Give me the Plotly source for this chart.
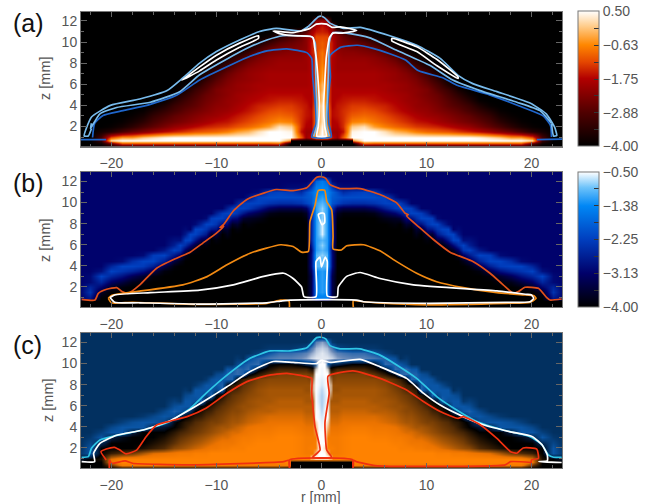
import numpy as np
import plotly.graph_objects as go

W, H = 661, 504
PANELS = [(11.5, 146.5), (172, 307), (333, 468)]
X0, X1 = 81, 562

# ---- field grids (half plane, mirrored about r = 0) ----
r_half = [0, .5, 1, 1.5, 2, 3, 4, 5, 6, 7, 8, 9, 10, 11, 12, 13, 14, 15, 16, 17, 18, 19, 20, 21, 22, 23]
z_rows = [13, 12.5, 12, 11.5, 11, 10.5, 10, 9.5, 9, 8.5, 8, 7.5, 7, 6.5, 6, 5.5, 5, 4.5, 4, 3.5, 3, 2.5, 2, 1.5, 1, .7, .4, .1]

# tenths of a decade above -4.00
a_rows = [
 [0],[2,0],[20,18,0],[24,22,16,0],[25,24,20,12,8,4,2,0],[28,28,22,18,14,10,6,2,0],
 [30,28,24,18,16,14,12,8,3,0],[30,28,24,18,17,16,15,13,8,3,0],[32,28,24,19,18,18,17,16,13,8,3,0],
 [32,28,22,20,19,19,19,18,16,13,8,3,0],[33,28,22,20,20,20,20,19,18,16,12,7,2,0],
 [34,28,22,20,20,20,20,20,19,18,15,11,6,1,0],[35,28,22,21,21,21,21,21,20,19,17,14,9,4,0],
 [36,28,22,21,21,21,21,21,20,19,18,16,12,7,2,0],[38,30,22,21,21,21,21,21,21,20,19,17,14,10,4,1,0],
 [38,30,22,22,22,22,22,22,21,20,19,18,16,12,8,3,0],[40,30,22,22,23,23,23,23,22,21,20,18,16,14,10,6,2,0],
 [40,30,22,23,24,25,25,24,23,22,20,19,17,15,12,9,5,1,0],[42,32,22,24,25,27,27,26,25,23,21,19,18,16,13,11,8,4,1,0],
 [42,32,23,24,26,28,29,28,26,24,22,20,19,17,15,13,10,7,4,1,0],[42,32,23,24,26,30,31,30,28,26,24,22,20,19,17,15,13,10,7,3,1,0],
 [42,32,22,23,26,33,34,32,30,28,26,24,23,21,19,17,15,13,10,6,3,1,0],[44,34,22,22,26,40,42,36,33,31,29,27,26,25,23,21,19,16,13,10,6,3,1,0],
 [45,36,20,20,24,44,45,45,42,38,36,33,31,30,29,27,25,23,20,17,14,10,5,3,0],
 [45,40,24,20,30,45,45,45,45,45,45,45,45,45,45,45,45,44,42,40,36,36,30,10,0],
 [0,0,0,0,0,35,45,45,45,45,45,45,45,45,45,45,45,45,45,45,45,45,42,8,0],
 [0,0,0,0,0,0,30,28,28,28,28,28,28,28,28,28,28,28,28,28,28,28,12,2,0],
 [0,0,0,0,0,0,4,5,5,5,5,5,5,5,5,5,5,5,5,5,5,5,2,0],
]
b_rows = [
 [9],[12,9],[25,22,10,9],[26,25,17,11,10,10,9],[26,26,22,19,15,17,18,17,10,9],[28,26,21,20,19,19,19,19,18,11,9],
 [30,28,20,18,16,15,15,16,18,18,13,9],[32,28,16,8,6,6,6,8,13,17,18,13,9],[32,28,14,3,1,1,1,2,6,9,16,18,13,9],
 [32,28,14,1,0,0,0,0,2,3,10,15,18,10,9],[34,28,14,0,0,0,0,0,0,1,4,10,16,18,10,9],
 [34,28,14,0,0,0,0,0,0,0,1,4,11,16,18,10,9],[34,28,14,0,0,0,0,0,0,0,0,2,5,12,18,12,9],
 [30,28,14,0,0,0,0,0,0,0,0,0,1,5,12,18,11,9],[32,28,12,0,0,0,0,0,0,0,0,0,0,1,5,15,13,9],
 [30,28,9,0,0,0,0,0,0,0,0,0,0,0,1,8,18,12,9],[32,30,10,0,0,0,0,0,0,0,0,0,0,0,0,2,12,18,17,10,9],
 [30,30,10,0,0,0,0,0,0,0,0,0,0,0,0,0,5,13,18,18,15,10,9],[30,30,10,0,0,0,0,0,0,0,0,0,0,0,0,0,1,6,13,17,18,18,14,9],
 [28,26,8,0,0,0,0,0,0,0,0,0,0,0,0,0,0,1,6,11,14,16,18,11,9],[28,26,6,0,0,0,0,0,0,0,0,0,0,0,0,0,0,0,1,4,7,11,14,18,10,9],
 [28,26,6,0,0,0,0,0,0,0,0,0,0,0,0,0,0,0,0,1,2,5,8,14,10,9],[28,26,6,0,0,0,0,0,0,0,0,0,0,0,0,0,0,0,0,0,0,1,3,9,14,9],
 [28,26,6,0,0,0,0,0,0,0,0,0,0,0,0,0,0,0,0,0,0,0,0,3,16,9],[25,25,6,0,0,0,0,0,0,0,0,0,0,0,0,0,0,0,0,0,0,0,0,0,12,9],
 [0],[0],[0],
]
b_mid = {
 7.5:[9,9,9,9,9,9,17,18,12,4,0],
 8.5:[9,9,9,9,9,9,9,17,18,11,3,0],
 9.5:[9,9,9,9,9,9,9,9,17,18,11,3,0],
 10.5:[9,9,9,9,9,9,9,9,9,17,18,12,4,0],
 11.5:[9,9,9,9,9,9,9,9,9,9,14,18,15,6,1,0],
 12.5:[9,9,9,9,9,9,9,9,9,9,9,9,18,18,10,3,0],
 13.5:[9,9,9,9,9,9,9,9,9,9,9,9,9,11,18,16,8,2,0],
}
c_rows = [
 [25],[26,25],[36,34,26,25],[38,37,33,28,27,26,26,26,25],[39,38,36,34,33,32,32,30,27,25],[39,39,38,36,35,34,34,33,31,29,26,25],
 [40,30,24,24,22,20,20,21,32,31,28,25],[18,18,18,15,15,15,15,18,22,32,32,30,25],[13,13,12,11,11,11,11,13,17,22,32,31,28,25],
 [11,11,11,10,10,10,10,10,11,14,20,31,30,26,25],[10,10,9,9,9,9,9,9,10,12,16,21,30,30,26,25],
 [9,9,9,9,8,8,8,8,9,11,14,17,28,30,30,26,25],[9,9,8,8,8,8,8,8,9,10,12,15,21,28,30,28,25],
 [8,8,8,8,7,7,7,8,8,9,11,13,17,22,29,30,27,25],[8,8,7,7,7,7,7,7,8,9,10,12,15,19,24,30,29,25],
 [7,7,7,7,6,6,6,7,7,8,10,11,13,16,20,28,31,28,25],[6,6,6,6,5,5,5,5,6,7,9,10,12,14,17,21,29,30,28,26,25],
 [5,5,5,5,4,4,4,4,5,6,8,9,11,12,14,17,21,28,30,30,29,27,25],[4,4,4,4,3,2,2,3,3,4,6,8,9,11,13,16,20,22,23,30,30,30,28,25],
 [3,3,3,3,2,1,1,2,2,3,5,6,8,10,12,14,17,20,20,20,23,30,30,27,25],[2,2,2,2,1,0,0,1,1,2,3,5,6,8,10,12,15,18,20,20,20,21,23,30,26,25],
 [1,1,2,2,1,0,0,0,0,1,2,3,4,6,8,10,13,16,18,20,20,20,20,24,28,25],[1,1,1,2,1,0,0,0,0,0,1,2,3,4,6,8,10,14,16,18,20,20,20,20,30,25],
 [2,2,2,2,1,0,0,0,0,0,0,0,0,1,1,2,3,4,5,8,12,14,16,20,30,26],[0,0,0,0,0,0,0,0,0,0,0,0,0,0,0,0,0,0,0,0,0,0,4,18,20,22],
 [20,20,20,20,20,0,0,0,0,0,0,0,0,0,0,0,0,0,0,0,0,0,3,20],[20,20,20,20,20,1,2,2,2,2,2,2,2,2,2,2,2,2,2,2,2,2,12,20],
 [20,20,20,20,20,20,17,17,17,17,17,17,17,17,17,17,17,17,17,17,17,17,20],
]
c_mid = {
 7.5:[25,25,25,25,25,25,30,31,31,16,13,12,11,10,9,9,8,7,5,4,2,1,1,0,0,0,2,17],
 8.5:[25,25,25,25,25,25,25,30,31,31,17,15,13,12,11,10,9,8,7,5,4,3,1,0,0,0,2,17],
 9.5:[25,25,25,25,25,25,25,25,29,30,31,31,18,15,13,12,11,10,8,7,5,3,2,0,0,0,2,17],
 10.5:[25,25,25,25,25,25,25,25,25,29,30,30,31,20,17,15,13,11,10,9,7,5,3,0,0,0,2,17],
 11.5:[25,25,25,25,25,25,25,25,25,25,28,30,30,31,20,18,16,13,12,11,9,7,5,1,0,0,2,17],
 12.5:[25,25,25,25,25,25,25,25,25,25,25,25,29,30,30,25,19,16,14,13,11,9,7,2,0,0,2,17],
 13.5:[25,25,25,25,25,25,25,25,25,25,25,25,25,26,30,30,24,19,18,15,13,11,9,2,0,0,2,17],
}
# bright jet of panel c, laid over the base field (0 = clear, 4 = white, 10 = pale blue)
jet_r = [0, .3, .6, .9]
jet_z = [10.5, 10, 9.5, 9, 8.5, 8, 7.5, 7, 6.5, 6, 5.5, 5, 4.5, 4, 3.5, 3, 2.5, 2, 1.5, 1.2, 1, .9]
jet_rows = [[0,0,0,0],[4,4,0,0],[5,4,3,0],[5,4,4,0],[6,5,4,1],[7,5,4,2],[9,6,4,2],[10,7,4,1],[10,7,4,0],[10,6,4,0],[9,5,4,0],
            [7,5,4,0],[6,4,3,0],[5,4,2,0],[4,4,1,0],[4,4,0,0],[4,4,0,0],[4,3,0,0],[4,4,2,0],[4,4,4,2],[4,4,4,2],[0,0,0,0]]

# ---- colour bars ----
a_ticks = [-4.00, -2.88, -1.75, -0.63, 0.50]
a_ticktext = ["−4.00", "−2.88", "−1.75", "−0.63", "0.50"]
b_ticks = [-4.00, -3.13, -2.25, -1.38, -0.50]
b_ticktext = ["−4.00", "−3.13", "−2.25", "−1.38", "−0.50"]
a_stops = [(-4, "rgb(0,0,0)"), (-2.88, "rgb(80,0,0)"), (-1.75, "rgb(178,0,0)"), (-1.2, "rgb(228,70,0)"),
           (-.63, "rgb(255,135,0)"), (0, "rgb(255,205,140)"), (.5, "rgb(255,255,255)")]
b_stops = [(-4, "rgb(0,0,0)"), (-3.13, "rgb(0,0,105)"), (-2.25, "rgb(0,62,190)"), (-1.38, "rgb(0,135,245)"),
           (-.9, "rgb(110,195,250)"), (-.5, "rgb(255,255,255)")]
c_stops = [(0, "rgb(255,130,0)"), (4, "rgb(235,115,0)"), (8, "rgb(165,85,5)"), (14, "rgb(80,42,5)"), (20, "rgb(0,0,0)"),
           (22, "rgb(2,20,50)"), (25, "rgb(2,48,96)"), (30, "rgb(10,85,165)"), (35, "rgb(110,140,185)"),
           (40, "rgb(255,255,255)"), (45, "rgb(170,205,240)")]
jet_stops = [(0, "rgba(255,255,255,0)"), (4, "rgba(255,255,255,1)"), (10, "rgba(170,205,240,1)")]

# ---- contours, panel a ----
a_shell_r = [-21.9,-22.2,-22.6,-22.4,-21.9,-20.1,-17.3,-14.7,-13.2,-11.6,-10,-7.8,-5.9,-4.3,-2,-1.3,-.3,0,.3,.8,2.1,3.7,6.5,9.07,11.3,13,14.4,16.7,19.9,21.4,22.2,22.4,22.1,21.9]
a_shell_z = [1.8,1.1,1.1,1.8,2.9,4,4.6,5.4,6.6,8,9.1,10.2,11,11.3,11.05,11.45,12.4,12.45,12.3,11.8,11.3,11.4,10.6,9.7,8.45,6.85,6.06,5.3,4.2,3.2,1.93,1.14,1.1,2.3]
a_inl_r = [-21.9,-22,-21.1,-19.5,-16.3,-13.5,-11.6,-9,-6.8,-5.2,-3.7,-2,-.93,-.6,-.55,-.45,-.4,-.75]
a_inl_z = [2.3,1.8,3.2,3.8,4.3,5.3,6.9,8.4,9.55,10.2,10.6,10.6,10.5,9.9,7,4.5,2.2,1.05]
a_inr_r = [21.9,20.8,18.6,15.1,12.5,10.3,7.2,4.6,2.7,1.1,.75,.65,.55,.45,.75]
a_inr_z = [2.3,3.5,4.3,5.4,6.4,7.8,9.2,10.4,10.8,10.9,10,7,4.5,2.2,1.05]
a_dark_r = [-21.8,-21.6,-20.8,-18.9,-16.3,-13.8,-11.6,-8.7,-6.8,-5.2,-3.3,-1.4,-.93,-.84,-.62,-.52,-.93,.93,.7,.62,.85,.8,1.8,3.4,4.9,6.5,8,9.2,11.6,12.9,16,19.2,21.1,21.8,21.9]
a_dark_z = [.95,2.3,3.05,3.5,4.1,4.95,6.4,7.8,8.65,9.17,9.36,9,8.45,6.7,4.5,2.3,1,1,2.3,4.5,6.7,8.7,9.5,9.7,9.4,8.9,8.3,7.3,6.6,5.9,5,3.8,3,2.1,1]
a_base_l_r = [-22.9,-20.5]
a_base_l_z = [.76,.76]
a_base_r_r = [20.5,22.9]
a_base_r_z = [.76,.8]
a_wl_r = [-13.3,-11.6,-10,-7.8,-6,-6,-7.8,-10,-11.6,-13.3]
a_wl_z = [6.38,7.65,8.76,9.9,10.6,10.35,9.5,8.3,7.27,6.38]
a_wr_r = [6.7,9.07,11,13,13,11,9.07,6.7,6.7]
a_wr_z = [10.35,9.55,8.35,6.7,6.55,7.75,9.1,10.1,10.35]
a_wc_r = [-4.6,-2.7,-1.1,-.5,0,.5,1,1.8,3.35,2,1.1,.75,.6,.45,.3,.2,.3,.45,-.45,-.3,-.2,-.3,-.5,-.65,-.8,-1.1,-2.7,-4,-4.6]
a_wc_z = [11.05,10.9,11.3,11.7,11.75,11.7,11.4,11.45,11.1,10.85,10.85,10.4,9.6,8.5,6,4,2,1.1,1.1,2,4,6,8.5,9.5,10.4,10.55,10.6,10.8,11.05]

# ---- contours, panel b ----
b_red_r = [-22.84,-21.57,-21.25,-20.46,-19.5,-19,-18.4,-17.3,-15.7,-13.8,-12.5,-11.3,-10,-9.3,-9.67,-9.3,-8.4,-7.1,-5.5,-4.3,-2.7,-1.4,-.46,0,.4,.81,1.76,3.67,5.57,7.16,7.95,8.27,8.1,9.38,10.65,12.24,14.46,16.05,17.3,18.27,18.75,19.38,20.65,21.45,21.76,22.87]
b_red_z = [.83,.76,1.4,1.78,1.94,1.56,1.4,2.2,3.78,4.73,5.3,6.16,7.1,7.75,7.65,7.95,9.2,10.3,10.9,11.24,11.14,11.4,12.4,12.45,12.3,11.7,11.33,11.33,10.76,9.97,9,8.86,8.75,7.6,6.5,5.3,4.4,3.3,2.2,1.4,1.56,1.97,1.87,.98,.76,.86]
b_or_r = [-20.3,-20,-18.4,-13.2,-10.9,-9,-6.8,-3.9,-2.7,-1.9,-1.25,-1.1,-.6,-.3,.3,.5,.97,1.1,1.1,1.9,2.4,4,5.57,7.16,9.06,10.97,13.5,16.7,19.5,20.2,20.43,19.85,17.6,9,4,3.03,3.03]
b_or_z = [.92,1.2,1.46,2.2,2.98,4.1,5.2,6,5.84,5.3,5.37,8.2,9.8,11.15,11.17,10.1,9.3,6.8,5.6,5.5,5.9,6,5.43,4.4,3.3,2.5,1.94,1.46,1.24,1.18,.92,.54,.45,.32,.6,.7,.1]
b_orl_r = [-20.3,-20,-18,-12.2,-5.2,-3.9,-3.1,-3.05]
b_orl_z = [.92,.5,.55,.35,.45,.76,.68,.1]
b_wh_r = [-20.1,-19.7,-16.3,-11.6,-8.4,-5.5,-3.6,-2.7,-1.9,-1.67,-.52,-.52,-.15,0,.35,.55,.55,1.5,1.6,2.4,3.67,5.57,8.75,16.7,19.5,20,20.2,19.85,17.6,10.3,4,3.35,-3,-3.9,-5.2,-11.6,-17.3,-19.7,-20.1]
b_wh_z = [1,1.24,1.46,1.7,2.2,3,3.3,2.8,2,1.08,1.08,4.41,4.83,3.9,4.83,4.41,1.14,1.08,2,3,3.37,2.8,2.2,1.62,1.3,1.24,.92,.6,.54,.45,.6,.76,.76,.66,.5,.38,.5,.55,1]
b_wh2_r = [-.3,-.05,.25,.3,.05,-.3]
b_wh2_z = [8.86,9,8.95,8.1,7.9,8.86]

# ---- contours, panel c ----
c_cy_r = [-22.84,-22.2,-21.9,-21.1,-19.5,-17,-14.6,-12.5,-11,-9,-6.8,-4.9,-3,-1.4,-.46,0,.4,.81,1.76,3.67,5.57,7.16,9.06,10.97,12.87,14.8,17.3,19.86,21,21.6,22.1,22.87]
c_cy_z = [1.12,1.18,1.97,2.76,3.2,3.7,4.43,5.76,7.18,8.9,10.5,11.2,11.2,11.5,12.46,12.5,12.35,11.7,11.4,11.4,10.8,9.87,8.6,6.87,5.6,4.5,3.7,3.07,2.3,1.34,1.12,1.12]
c_wh_r = [-22.84,-21.6,-21.7,-21.1,-19.5,-17,-14.6,-12.5,-11,-9,-6.8,-4.6,-2.7,-.46,-.05,.05,.81,3.67,5.57,8.1,9.7,11.3,13.5,15.4,17.9,20.1,21,21.5,21.5,20.7,22.87]
c_wh_z = [.7,.7,1.5,2.44,3.2,3.7,4.5,5.65,6.55,7.8,9.24,10.2,10.12,10,10.3,10.3,10.12,10.4,9.7,8.6,7.2,6.07,4.97,4.2,3.55,3.07,2.3,1.34,.77,.7,.62]
c_red_r = [-20.5,-21,-20.5,-19.7,-19.2,-18.6,-17.6,-16.7,-15.7,-14.6,-12.8,-11,-9,-7.1,-5.2,-3.3,-1.4,-.93,-.93,-.62,-.14,-.84,.97,.5,.33,.73,.62,3,5.57,8.1,9.7,11.3,13,13.5,15.1,16.7,18,18.6,19.2,20.5,20.65,20,20]
c_red_z = [.87,1.65,1.9,2.06,1.8,1.44,1.8,3.07,4.18,4.5,4.97,5.76,7.18,8.29,8.86,9.08,8.76,8.6,7.2,4.02,1.8,1.1,1.1,1.8,4.4,7.2,8.8,9.3,8.6,7.5,6.4,5.45,4.8,4.97,4.2,2.9,1.65,1.5,2,1.9,1,.87,.25]
c_redl_r = [-20.2,-20.2,-20,-18.7,-18,-12.6,-3.6,-3.05,-3.05,-3.05,3,3,3,3.3,5.1,9.4,17.5,18,20]
c_redl_z = [.1,.87,.55,.77,.55,.4,.7,.86,.1,.86,.86,.1,.86,.7,.33,.25,.4,.7,.62]

LIGHT, DARK, ORNG, RED, CYAN, RED2, WHITE = "#78bbec", "#1f66cc", "#f28a12", "#e2511a", "#2fc6e6", "#f0300f", "#ffffff"

def field(rows, mids=None):
    n = len(r_half)
    m = np.array([list(x) + [x[-1]] * (n - len(x)) for x in rows], dtype=float)
    rh = np.array(r_half, dtype=float)
    for r0, col in sorted((mids or {}).items()):
        col = list(col) + [col[-1]] * (len(z_rows) - len(col))
        k = int(np.searchsorted(rh, r0))
        m = np.insert(m, k, col, axis=1)
        rh = np.insert(rh, k, r0)
    i3 = int(np.searchsorted(rh, 3))
    col = m[:, i3].copy()
    low = np.array(z_rows) < .75
    col[low] = m[low, i3 - 1]
    m = np.insert(m, i3, col, axis=1)
    rh = np.insert(rh, i3, 2.9)
    full = np.hstack([m[:, :0:-1], m])
    rr = np.concatenate([-rh[:0:-1], rh])
    return rr, np.array(z_rows)[::-1], full[::-1]

def cs(stops):
    lo, hi = stops[0][0], stops[-1][0]
    return [[(v - lo) / (hi - lo), c] for v, c in stops]

fig = go.Figure()
for i, (t, b) in enumerate(PANELS, start=1):
    s = "" if i == 1 else str(i)
    fig.update_layout({
        "xaxis" + s: dict(domain=[X0 / W, X1 / W], range=[-22.9, 22.9], anchor="y" + s, tickvals=[-20, -10, 0, 10, 20],
                          ticktext=["−20", "−10", "0", "10", "20"], ticks="inside", ticklen=5, mirror="allticks",
                          showline=True, linecolor="#777", linewidth=1, tickcolor="#666", showgrid=False, zeroline=False,
                          minor=dict(dtick=2, ticks="inside", ticklen=3, tickcolor="#666"),
                          tickfont=dict(family="Liberation Sans", size=14, color="#555"), ticklabelstandoff=4),
        "yaxis" + s: dict(domain=[1 - b / H, 1 - t / H], range=[.1, 12.9], anchor="x" + s, tickvals=[2, 4, 6, 8, 10, 12],
                          ticks="inside", ticklen=6, mirror="allticks", showline=True, linecolor="#777", linewidth=1,
                          tickcolor="#666", showgrid=False, zeroline=False,
                          minor=dict(dtick=1, ticks="inside", ticklen=3, tickcolor="#666"),
                          tickfont=dict(family="Liberation Sans", size=14, color="#555")),
    })

def cbar(ticks, text, top):
    vals, labels = [], []
    for k, v in enumerate(ticks):
        vals.append(v); labels.append(text[k])
        if k + 1 < len(ticks):
            vals.append((v + ticks[k + 1]) / 2); labels.append("")
    return dict(x=578 / W, xanchor="left", thickness=21, len=135 / H, lenmode="fraction", y=1 - (top + 67.5) / H,
                yanchor="middle", xpad=0, ypad=0, outlinecolor="#777", outlinewidth=1, tickmode="array", tickvals=vals,
                ticktext=labels, ticks="inside", ticklen=5, tickcolor="#333",
                tickfont=dict(family="Liberation Sans", size=14, color="#555"))

rr, zz, fa = field(a_rows)
fig.add_trace(go.Heatmap(x=rr, y=zz, z=-4 + fa / 10, zmin=-4, zmax=.5, zsmooth="best", colorscale=cs(a_stops),
                         colorbar=cbar(a_ticks, a_ticktext, 11.5), xaxis="x", yaxis="y", hoverinfo="skip"))
rr, zz, fb = field(b_rows, b_mid)
fig.add_trace(go.Heatmap(x=rr, y=zz, z=-4 + fb / 10, zmin=-4, zmax=-.5, zsmooth="best", colorscale=cs(b_stops),
                         colorbar=cbar(b_ticks, b_ticktext, 172), xaxis="x2", yaxis="y2", hoverinfo="skip"))
rr, zz, fc = field(c_rows, c_mid)
fig.add_trace(go.Heatmap(x=rr, y=zz, z=fc, zmin=0, zmax=45, zsmooth="best", colorscale=cs(c_stops), showscale=False,
                         xaxis="x3", yaxis="y3", hoverinfo="skip"))
jm = np.array(jet_rows, dtype=float)
fig.add_trace(go.Heatmap(x=[-v for v in jet_r[:0:-1]] + jet_r, y=jet_z[::-1], z=np.hstack([jm[:, :0:-1], jm])[::-1],
                         zmin=0, zmax=10, zsmooth="best", colorscale=cs(jet_stops), showscale=False,
                         xaxis="x3", yaxis="y3", hoverinfo="skip"))

def line(r, z, color, ax="", width=1.7):
    fig.add_trace(go.Scatter(x=r, y=z, mode="lines", line=dict(color=color, width=width, shape="spline", smoothing=.5),
                             xaxis="x" + ax, yaxis="y" + ax, showlegend=False, hoverinfo="skip"))

for r, z, c in [(a_dark_r, a_dark_z, DARK), (a_base_l_r, a_base_l_z, DARK), (a_base_r_r, a_base_r_z, DARK),
                (a_shell_r, a_shell_z, LIGHT), (a_inl_r, a_inl_z, LIGHT), (a_inr_r, a_inr_z, LIGHT),
                (a_wl_r, a_wl_z, WHITE), (a_wr_r, a_wr_z, WHITE), (a_wc_r, a_wc_z, WHITE)]:
    line(r, z, c)
for r, z, c in [(b_red_r, b_red_z, RED), (b_or_r, b_or_z, ORNG), (b_orl_r, b_orl_z, ORNG), (b_wh_r, b_wh_z, WHITE), (b_wh2_r, b_wh2_z, WHITE)]:
    line(r, z, c, "2")
for r, z, c in [(c_cy_r, c_cy_z, CYAN), (c_wh_r, c_wh_z, WHITE), (c_red_r, c_red_z, RED2), (c_redl_r, c_redl_z, RED2)]:
    line(r, z, c, "3")

def note(text, x, y, size, color, angle=0, anchor="center"):
    fig.add_annotation(text=text, x=x / W, y=1 - y / H, xref="paper", yref="paper", showarrow=False, textangle=angle,
                       xanchor=anchor, yanchor="middle", borderpad=0, font=dict(family="Liberation Sans", size=size, color=color))

note("(a)", 12, 23, 25, "#111", anchor="left")
note("(b)", 12, 183, 25, "#111", anchor="left")
note("(c)", 12, 345, 25, "#111", anchor="left")
note("z [mm]", 45, 78, 14.5, "#555", -90)
note("z [mm]", 45, 240, 14.5, "#555", -90)
note("z [mm]", 48, 400, 14.5, "#555", -90)
note("r [mm]", 321, 497, 14, "#555")

fig.update_layout(width=W, height=H, margin=dict(l=0, r=0, t=0, b=0), paper_bgcolor="white", plot_bgcolor="black",
                  showlegend=False)
fig.write_html("out.html", config={"displayModeBar": False},
               post_script="document.body.style.margin='0';document.body.style.overflow='hidden';")
